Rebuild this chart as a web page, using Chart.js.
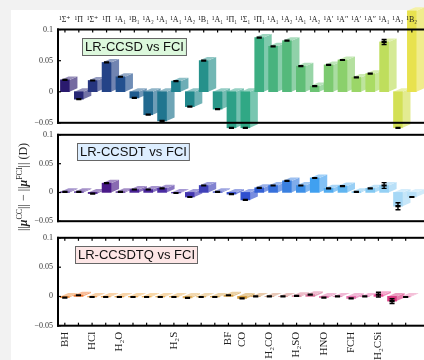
<!DOCTYPE html>
<html>
<head>
<meta charset="utf-8">
<script src="https://cdn.jsdelivr.net/npm/chart.js@4.4.0/dist/chart.umd.min.js"></script>
<style>
html, body { margin: 0; padding: 0; width: 424px; height: 360px; overflow: hidden; background: #f2f2f2; }
#sheet { position: absolute; left: 11px; top: 10px; width: 413px; height: 350px; background: #fff; }
canvas { position: absolute; left: 0; }
#c1 { top: 0; }
#c2 { top: 125px; }
#c3 { top: 228px; }
#ytitle { position: absolute; left: -56px; top: 179px; width: 160px; height: 16px; line-height: 16px;
  text-align: center; transform: rotate(-90deg); font: 12px "Liberation Serif", serif; color: #222; white-space: nowrap; }
#ytitle sup { font-size: 8px; vertical-align: 5px; line-height: 0; }
</style>
</head>
<body>
<div id="sheet"></div>
<canvas id="c1" width="425" height="134"></canvas>
<canvas id="c2" width="425" height="106"></canvas>
<canvas id="c3" width="425" height="132"></canvas>
<div id="ytitle">||<b><i>μ</i></b><sup>CC</sup>|| − ||<b><i>μ</i></b><sup>FCI</sup>|| (D)</div>
<script>
// excited states (top axis) and molecules (bottom axis)
var states = ["¹Σ⁺", "¹Π", "¹Σ⁺", "¹Π", "¹A₁", "¹B₁", "¹A₂", "¹A₁", "¹A₁", "¹A₂", "¹B₁", "¹A₁", "¹Π₁",
    "¹Σ₁", "¹Π₁", "¹A₁", "¹A₂", "¹A₁", "¹A₂", "¹A′", "¹A″", "¹A′", "¹A″", "¹A₁", "¹A₂", "¹B₂"];
var molecules = ["BH", "", "HCl", "", "H₂O", "", "", "", "H₂S", "", "", "", "BF",
    "CO", "", "H₂CO", "", "H₂SO", "", "HNO", "", "FCH", "", "H₂CSi", "", ""];

// ||mu(CC)|| - ||mu(FCI)|| in Debye
var ccsd = [0.019, -0.012, 0.018, 0.047, 0.024, -0.010, -0.037, -0.047, 0.017, -0.024, 0.050, -0.028, -0.058,
    -0.058, 0.087, 0.073, 0.082, 0.041, 0.009, 0.043, 0.051, 0.023, 0.029, 0.080, -0.058, 0.130];
var ccsdErr = [0, 0, 0, 0, 0, 0, 0, 0, 0, 0, 0, 0, 0, 0, 0, 0, 0, 0, 0, 0, 0, 0, 0, 0.004, 0, 0];
var ccsdt = [0.001, 0.001, -0.002, 0.016, 0.001, 0.005, 0.005, 0.007, -0.001, -0.008, 0.012, 0.001, -0.003,
    -0.013, 0.008, 0.012, 0.020, 0.012, 0.025, 0.007, 0.011, 0.001, 0.007, 0.012, -0.024, -0.008];
var ccsdtErr = [0, 0, 0, 0, 0, 0, 0, 0, 0, 0, 0, 0, 0, 0, 0, 0, 0, 0, 0, 0, 0, 0, 0, 0.005, 0.006, 0];
var ccsdtq = [-0.002, 0.002, -0.001, -0.001, -0.001, -0.001, -0.001, -0.001, -0.001, -0.0025, -0.001, -0.001, 0.002,
    -0.0035, 0, 0, 0, 0.001, 0.003, -0.002, 0, -0.0035, 0, 0.003, -0.008, -0.001];
var ccsdtqErr = [0, 0, 0, 0, 0, 0, 0, 0, 0, 0, 0, 0, 0, 0, 0, 0, 0, 0, 0, 0, 0, 0, 0, 0.004, 0.004, 0];

var yTicks = [-0.05, 0, 0.05, 0.1];

// colour ramps per panel [index, colour]
var ramp1 = [[0, "#2a1a6e"], [4, "#22508f"], [8, "#1f818f"], [13, "#30a885"], [18, "#6cc474"], [22, "#aadc64"], [25, "#e8e24e"]];
var ramp2 = [[0, "#4a2898"], [3, "#4a1a88"], [8, "#4a30a8"], [11, "#3a48c0"], [13, "#3050d0"], [16, "#3a80e0"],
    [18, "#40a0f0"], [21, "#70c0f0"], [25, "#b8e0f8"]];
var ramp3 = [[0, "#f09040"], [1, "#f07830"], [2, "#f0a050"], [6, "#f0b050"], [10, "#e0b060"], [13, "#d09838"],
    [15, "#d09070"], [17, "#d87890"], [19, "#e070a8"], [22, "#e870b0"], [23, "#e85098"], [24, "#d83880"], [25, "#e880b0"]];

function hexRgb(h) {
    return [parseInt(h.substr(1, 2), 16), parseInt(h.substr(3, 2), 16), parseInt(h.substr(5, 2), 16)];
}
function rgbStr(c) {
    return "rgb(" + c.map(Math.round).join(",") + ")";
}
function rampColors(ramp, n) {
    var out = [];
    for (var i = 0; i < n; i++) {
        var k = 0;
        while (k < ramp.length - 2 && ramp[k + 1][0] <= i) k++;
        var a = ramp[k], b = ramp[k + 1];
        var t = Math.max(0, Math.min(1, (i - a[0]) / (b[0] - a[0])));
        var ca = hexRgb(a[1]), cb = hexRgb(b[1]);
        out.push([0, 1, 2].map(function (j) { return ca[j] + (cb[j] - ca[j]) * t; }));
    }
    return out;
}
function tint(c, f) {
    return rgbStr(c.map(function (v) { return v + (255 - v) * f; }));
}

var serif = "'Liberation Serif', 'DejaVu Serif', serif";

// side and top faces of the boxes, under the front faces drawn by Chart.js
var boxFaces = {
    id: "boxFaces",
    beforeDatasetsDraw: function (chart) {
        var ctx = chart.ctx, meta = chart.getDatasetMeta(1), cols = chart.options.plugins.boxFaces.colors;
        var dx = 8, dy = 3.5;
        ctx.save();
        meta.data.forEach(function (bar, i) {
            var h = bar.width / 2, xl = bar.x - h, xr = bar.x + h;
            var yt = Math.min(bar.y, bar.base), yb = Math.max(bar.y, bar.base);
            ctx.fillStyle = tint(cols[i], 0.35);
            ctx.beginPath();
            ctx.moveTo(xr, yt); ctx.lineTo(xr + dx, yt - dy); ctx.lineTo(xr + dx, yb - dy); ctx.lineTo(xr, yb);
            ctx.closePath(); ctx.fill();
            ctx.fillStyle = tint(cols[i], 0.5);
            ctx.beginPath();
            ctx.moveTo(xl, yt); ctx.lineTo(xl + dx, yt - dy); ctx.lineTo(xr + dx, yt - dy); ctx.lineTo(xr, yt);
            ctx.closePath(); ctx.fill();
        });
        ctx.restore();
    },
    afterDatasetsDraw: function (chart) {
        var ctx = chart.ctx, y = chart.scales.y, x = chart.scales.x;
        var o = chart.options.plugins.boxFaces;
        ctx.save();
        ctx.strokeStyle = "#000";
        ctx.lineWidth = 1.4;
        o.errs.forEach(function (e, i) {
            if (!e) return;
            var px = x.getPixelForValue(i);
            var y1 = y.getPixelForValue(o.vals[i] - e), y2 = y.getPixelForValue(o.vals[i] + e);
            ctx.beginPath();
            ctx.moveTo(px, y1); ctx.lineTo(px, y2);
            ctx.moveTo(px - 2.5, y1); ctx.lineTo(px + 2.5, y1);
            ctx.moveTo(px - 2.5, y2); ctx.lineTo(px + 2.5, y2);
            ctx.stroke();
        });
        ctx.restore();
    },
    afterDraw: function (chart) {
        var ctx = chart.ctx, a = chart.chartArea, o = chart.options.plugins.boxFaces;
        var x = chart.scales.x, y = chart.scales.y;
        ctx.save();
        ctx.fillStyle = "#000";
        ctx.fillRect(a.left - 1, a.top - 1, chart.width, 2);
        ctx.fillRect(a.left - 1, a.bottom - 1, chart.width, 2);
        ctx.fillRect(a.left - 1, a.top - 1, 2, a.bottom - a.top + 2);
        y.ticks.forEach(function (t) {
            ctx.fillRect(a.left, y.getPixelForValue(t.value) - 0.5, 3, 1.2);
        });
        for (var i = 0; i < states.length; i++) {
            var px = x.getPixelForValue(i);
            if (o.topTicks) ctx.fillRect(px - 0.6, a.top, 1.2, 3);
            if (o.bottomTicks) ctx.fillRect(px - 0.6, a.bottom - 3, 1.2, 3);
        }
        // panel caption
        ctx.font = "13px 'Liberation Sans', Arial, sans-serif";
        var w = ctx.measureText(o.caption).width + 6;
        ctx.fillStyle = o.captionBg;
        ctx.fillRect(o.captionX, o.captionY, w, 18);
        ctx.strokeStyle = "#666";
        ctx.lineWidth = 1;
        ctx.strokeRect(o.captionX + 0.5, o.captionY + 0.5, w - 1, 17);
        ctx.fillStyle = "#111";
        ctx.textBaseline = "middle";
        ctx.fillText(o.caption, o.captionX + 3, o.captionY + 9.5);
        ctx.restore();
    }
};

function makePanel(id, vals, errs, ramp, p) {
    var cols = rampColors(ramp, vals.length);
    new Chart(document.getElementById(id), {
        type: "bar",
        data: {
            labels: states,
            datasets: [
                {
                    type: "line",
                    data: vals,
                    showLine: false,
                    pointStyle: "line",
                    pointRadius: 2.6,
                    pointBorderWidth: 2.2,
                    pointBorderColor: "#000",
                    order: 0,
                    clip: { left: false, top: 0, right: false, bottom: false }
                },
                {
                    data: vals,
                    backgroundColor: cols.map(function (c) { return rgbStr(c); }),
                    barThickness: 9,
                    order: 1,
                    clip: false
                }
            ]
        },
        options: {
            responsive: false,
            animation: false,
            devicePixelRatio: 1,
            layout: { padding: p.padding },
            plugins: {
                legend: { display: false },
                tooltip: { enabled: false },
                boxFaces: {
                    colors: cols, vals: vals, errs: errs,
                    topTicks: p.topTicks, bottomTicks: p.bottomTicks,
                    caption: p.caption, captionBg: p.captionBg, captionX: p.captionX, captionY: p.captionY
                }
            },
            scales: {
                x: {
                    display: p.xDisplay,
                    position: p.xPosition,
                    offset: true,
                    grid: { display: false, drawTicks: false },
                    border: { display: false },
                    afterFit: function (s) { s.height = p.xHeight; },
                    ticks: {
                        z: 1,
                        autoSkip: false,
                        maxRotation: p.xRotation,
                        minRotation: p.xRotation,
                        padding: p.xPadding,
                        color: "#222",
                        font: { family: serif, size: p.xFont },
                        callback: function (v, i) { return p.xLabels[i]; }
                    }
                },
                y: {
                    min: -0.05,
                    max: 0.1,
                    afterFit: function (s) { s.width = 58; },
                    afterBuildTicks: function (s) {
                        s.ticks = yTicks.map(function (v) { return { value: v }; });
                    },
                    grid: { display: false, drawTicks: false },
                    border: { display: false },
                    ticks: {
                        padding: 5,
                        color: "#333",
                        font: { family: serif, size: 8 },
                        callback: function (v) { return String(+v.toFixed(2)).replace("-", "−"); }
                    }
                }
            }
        },
        plugins: [boxFaces]
    });
}

makePanel("c1", ccsd, ccsdErr, ramp1, {
    padding: { top: 0, bottom: 11.2, left: 0, right: 0 },
    xDisplay: true, xPosition: "top", xHeight: 29.5, xRotation: 0, xPadding: 5, xFont: 8, xLabels: states,
    topTicks: true, bottomTicks: false,
    caption: "LR-CCSD vs FCI", captionBg: "#dcf8dc", captionX: 82, captionY: 38
});
makePanel("c2", ccsdt, ccsdtErr, ramp2, {
    padding: { top: 5.3, bottom: 6.8, left: 0, right: 0 },
    xDisplay: false, xPosition: "bottom", xHeight: 0, xRotation: 0, xPadding: 0, xFont: 8, xLabels: states,
    topTicks: false, bottomTicks: false,
    caption: "LR-CCSDT vs FCI", captionBg: "#ddeeff", captionX: 77, captionY: 18
});
makePanel("c3", ccsdtq, ccsdtqErr, ramp3, {
    padding: { top: 6.3, bottom: 0, left: 0, right: 0 },
    xDisplay: true, xPosition: "bottom", xHeight: 34.3, xRotation: 90, xPadding: 6, xFont: 11, xLabels: molecules,
    topTicks: true, bottomTicks: true,
    caption: "LR-CCSDTQ vs FCI", captionBg: "#fde6e6", captionX: 75, captionY: 18
});
</script>
</body>
</html>
